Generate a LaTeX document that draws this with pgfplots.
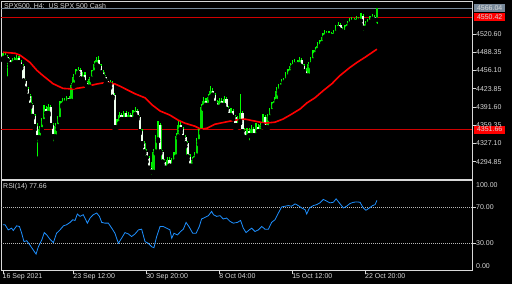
\documentclass[border=0pt]{standalone}
\usepackage{pgfplots}
\pgfplotsset{compat=1.18}
\usepackage{pgfplotstable}
\usepackage{fontspec}
\setmainfont{Liberation Sans}
\definecolor{fg}{HTML}{D8D8D8}
\definecolor{bullc}{HTML}{00E000}
\definecolor{wickc}{HTML}{00FF00}
\definecolor{bearc}{HTML}{EEFFEE}
\definecolor{mared}{HTML}{FF0000}
\definecolor{lvred}{HTML}{D00000}
\definecolor{askg}{HTML}{778899}
\definecolor{rsib}{HTML}{1E90FF}
\definecolor{lvl}{HTML}{B8B8B8}

\pgfplotstableread{
i o h l c
0 4477.6 4486.5 4474.0 4483.0
1 4483.0 4486.5 4475.8 4479.4
2 4479.4 4483.0 4441.7 4474.0
3 4474.0 4477.6 4461.5 4466.8
4 4466.8 4477.6 4463.2 4474.0
5 4474.0 4479.4 4466.8 4470.4
6 4470.4 4483.0 4466.8 4477.6
7 4477.6 4481.2 4465.0 4470.4
8 4470.4 4474.0 4459.7 4463.2
9 4463.2 4466.8 4434.6 4438.2
10 4438.2 4441.7 4418.5 4423.8
11 4423.8 4427.4 4405.9 4411.3
12 4411.3 4414.9 4391.6 4395.2
13 4395.2 4398.7 4371.9 4375.5
14 4375.5 4379.0 4352.2 4357.5
15 4357.5 4362.9 4300.2 4337.8
16 4337.8 4357.5 4330.7 4352.2
17 4352.2 4371.9 4348.6 4366.5
18 4366.5 4395.2 4362.9 4388.0
19 4388.0 4393.4 4375.5 4380.8
20 4380.8 4397.0 4377.2 4391.6
21 4391.6 4395.2 4355.7 4359.3
22 4359.3 4362.9 4327.1 4339.6
23 4339.6 4362.9 4334.2 4357.5
24 4357.5 4375.5 4352.2 4370.1
25 4370.1 4402.3 4366.5 4395.2
26 4395.2 4407.7 4391.6 4402.3
27 4402.3 4407.7 4393.4 4398.7
28 4398.7 4411.3 4395.2 4407.7
29 4407.7 4411.3 4397.0 4402.3
30 4402.3 4434.6 4398.7 4431.0
31 4431.0 4450.7 4427.4 4445.3
32 4445.3 4457.9 4441.7 4452.5
33 4452.5 4461.5 4448.9 4456.1
34 4456.1 4459.7 4438.2 4441.7
35 4441.7 4452.5 4438.2 4448.9
36 4448.9 4452.5 4431.0 4434.6
37 4434.6 4438.2 4423.8 4427.4
38 4427.4 4445.3 4423.8 4441.7
39 4441.7 4456.1 4438.2 4452.5
40 4452.5 4472.2 4448.9 4466.8
41 4466.8 4479.4 4463.2 4474.0
42 4474.0 4481.2 4459.7 4463.2
43 4463.2 4466.8 4448.9 4452.5
44 4452.5 4456.1 4441.7 4445.3
45 4445.3 4448.9 4432.8 4438.2
46 4438.2 4441.7 4427.4 4431.0
47 4431.0 4440.0 4425.6 4434.6
48 4434.6 4438.2 4405.9 4409.5
49 4413.1 4416.7 4352.2 4355.7
50 4355.7 4370.1 4348.6 4362.9
51 4362.9 4382.6 4359.3 4377.2
52 4377.2 4380.8 4366.5 4370.1
53 4370.1 4384.4 4366.5 4380.8
54 4380.8 4384.4 4364.7 4370.1
55 4370.1 4382.6 4366.5 4377.2
56 4377.2 4380.8 4364.7 4370.1
57 4370.1 4386.2 4366.5 4379.0
58 4379.0 4391.6 4373.7 4384.4
59 4384.4 4388.0 4370.1 4373.7
60 4373.7 4377.2 4345.0 4348.6
61 4348.6 4352.2 4321.7 4327.1
62 4327.1 4330.7 4309.2 4312.7
63 4312.7 4318.1 4294.8 4302.0
64 4302.0 4305.6 4276.9 4284.1
65 4284.1 4294.8 4268.0 4276.9
66 4276.9 4318.1 4273.3 4312.7
67 4312.7 4341.4 4309.2 4334.2
68 4334.2 4366.5 4330.7 4357.5
69 4359.3 4362.9 4309.2 4312.7
70 4312.7 4316.3 4289.5 4294.8
71 4294.8 4300.2 4278.7 4284.1
72 4284.1 4303.8 4280.5 4298.4
73 4298.4 4303.8 4282.3 4287.7
74 4287.7 4302.0 4284.1 4294.8
75 4294.8 4312.7 4291.2 4303.8
76 4303.8 4345.0 4298.4 4339.6
77 4339.6 4366.5 4336.0 4359.3
78 4359.3 4366.5 4346.8 4352.2
79 4352.2 4355.7 4334.2 4337.8
80 4337.8 4341.4 4321.7 4327.1
81 4327.1 4330.7 4298.4 4303.8
82 4303.8 4309.2 4282.3 4287.7
83 4287.7 4303.8 4284.1 4298.4
84 4298.4 4312.7 4294.8 4305.6
85 4305.6 4336.0 4302.0 4330.7
86 4330.7 4354.0 4325.3 4348.6
87 4348.6 4397.0 4345.0 4391.6
88 4391.6 4409.5 4388.0 4402.3
89 4402.3 4407.7 4389.8 4395.2
90 4395.2 4414.9 4391.6 4409.5
91 4409.5 4429.2 4405.9 4420.2
92 4420.2 4425.6 4409.5 4413.1
93 4413.1 4416.7 4395.2 4398.7
94 4398.7 4404.1 4386.2 4391.6
95 4391.6 4407.7 4388.0 4402.3
96 4402.3 4407.7 4391.6 4395.2
97 4395.2 4411.3 4391.6 4405.9
98 4405.9 4409.5 4384.4 4388.0
99 4388.0 4393.4 4373.7 4377.2
100 4377.2 4389.8 4371.9 4384.4
101 4384.4 4388.0 4370.1 4373.7
102 4373.7 4377.2 4352.2 4359.3
103 4359.3 4375.5 4355.7 4370.1
104 4366.5 4414.9 4362.9 4380.8
105 4380.8 4384.4 4343.2 4348.6
106 4348.6 4354.0 4330.7 4337.8
107 4337.8 4354.0 4334.2 4348.6
108 4348.6 4354.0 4328.9 4341.4
109 4341.4 4359.3 4337.8 4352.2
110 4352.2 4355.7 4336.0 4341.4
111 4341.4 4362.9 4337.8 4355.7
112 4355.7 4361.1 4343.2 4348.6
113 4348.6 4364.7 4345.0 4359.3
114 4359.3 4379.0 4355.7 4373.7
115 4373.7 4377.2 4350.4 4355.7
116 4355.7 4379.0 4352.2 4373.7
117 4373.7 4389.8 4370.1 4384.4
118 4384.4 4400.5 4380.8 4395.2
119 4395.2 4409.5 4391.6 4402.3
120 4402.3 4427.4 4398.7 4420.2
121 4420.2 4432.8 4414.9 4427.4
122 4427.4 4441.7 4423.8 4434.6
123 4434.6 4443.5 4429.2 4438.2
124 4438.2 4452.5 4434.6 4445.3
125 4445.3 4457.9 4441.7 4452.5
126 4452.5 4468.6 4448.9 4463.2
127 4463.2 4474.0 4459.7 4466.8
128 4466.8 4475.8 4461.5 4470.4
129 4470.4 4474.0 4463.2 4466.8
130 4466.8 4479.4 4463.2 4474.0
131 4474.0 4477.6 4459.7 4463.2
132 4463.2 4466.8 4448.9 4454.3
133 4454.3 4459.7 4441.7 4447.1
134 4447.1 4470.4 4443.5 4466.8
135 4466.8 4479.4 4463.2 4474.0
136 4474.0 4491.9 4470.4 4484.8
137 4484.8 4497.3 4481.2 4491.9
138 4491.9 4506.3 4488.3 4499.1
139 4499.1 4509.8 4495.5 4504.5
140 4504.5 4522.4 4500.9 4515.2
141 4515.2 4527.8 4511.6 4522.4
142 4522.4 4526.0 4513.4 4518.8
143 4518.8 4526.0 4515.2 4520.6
144 4520.6 4524.2 4513.4 4517.0
145 4517.0 4527.8 4513.4 4522.4
146 4522.4 4536.7 4518.8 4531.3
147 4531.3 4542.1 4527.8 4536.7
148 4536.7 4540.3 4524.2 4527.8
149 4527.8 4533.1 4520.6 4524.2
150 4524.2 4536.7 4520.6 4531.3
151 4531.3 4543.9 4527.8 4538.5
152 4538.5 4549.3 4534.9 4542.1
153 4542.1 4551.0 4538.5 4545.7
154 4545.7 4549.3 4536.7 4542.1
155 4542.1 4552.8 4538.5 4547.5
156 4547.5 4551.0 4538.5 4543.9
157 4543.9 4558.2 4536.7 4552.8
158 4552.8 4556.4 4522.4 4531.3
159 4531.3 4543.9 4527.8 4538.5
160 4538.5 4547.5 4534.9 4542.1
161 4542.1 4552.8 4538.5 4547.5
162 4547.5 4556.4 4542.1 4551.0
163 4551.0 4554.6 4538.5 4545.7
164 4545.7 4567.2 4534.9 4566.04
}\candles

\begin{document}
\begin{tikzpicture}
\fill[black] (0pt,0pt) rectangle (512pt,284pt);
\begin{axis}[at={(1pt,105pt)}, anchor=south west, scale only axis,
  width=471pt, height=178pt,
  xmin=-0.877, xmax=205.7, ymin=4264.2, ymax=4578.9,
  clip=false,
  axis line style={draw=fg, line width=0.8pt},
  xtick=\empty,
  ytick={4294.85,4327.10,4359.35,4391.60,4423.85,4456.10,4488.35,4520.60},
  yticklabels={4294.85,4327.10,4359.35,4391.60,4423.85,4456.10,4488.35,4520.60},
  ytick pos=right, yticklabel pos=right,
  tick align=outside, major tick length=3.5pt,
  tick style={draw=fg, line width=0.6pt},
  yticklabel style={font=\fontsize{7}{8}\selectfont, text=fg, anchor=west, inner sep=0pt, xshift=0.5pt},
]
% levels
\addplot[askg, line width=0.8pt] coordinates {(-0.877,4566.04) (205.7,4566.04)};
\addplot[lvred, line width=0.8pt] coordinates {(-0.877,4550.42) (205.7,4550.42)};
\addplot[lvred, line width=0.8pt] coordinates {(-0.877,4351.66) (205.7,4351.66)};
% wicks
\addplot[only marks, mark=none,
  error bars/.cd, y dir=plus, y explicit, error mark=none,
  error bar style={draw=wickc, line width=1.2pt}]
  table[x=i, y=l, y error expr={\thisrow{h}-\thisrow{l}}] {\candles};
% all bodies (green)
\addplot[only marks, mark=none,
  error bars/.cd, y dir=plus, y explicit, error mark=none,
  error bar style={draw=bullc, line width=2.4pt}]
  table[x=i, y expr={min(\thisrow{o},\thisrow{c})}, y error expr={abs(\thisrow{c}-\thisrow{o})}] {\candles};
% bear bodies (white)
\addplot[only marks, mark=none,
  error bars/.cd, y dir=plus, y explicit, error mark=none,
  error bar style={draw=bearc, line width=2.2pt}]
  table[x=i, y expr={\thisrow{c}<\thisrow{o} ? \thisrow{c} : nan}, y error expr={\thisrow{o}-\thisrow{c}}] {\candles};
% moving average
\addplot[mared, line width=1.6pt] coordinates {
(0,4488.3) (5.3,4486.5) (7.5,4483.0) (11.8,4470.4) (14.9,4456.1) (17.5,4447.1) (21.9,4432.8) (26.3,4424.4) (30.7,4423.3) (35.1,4426.2) (41.2,4432.2) (45.6,4435.1) (49.1,4432.2) (51.3,4428.3) (53.5,4423.8) (57.9,4414.9) (62.3,4407.7) (65.4,4395.2) (68.9,4384.4) (73.2,4377.2) (76.8,4368.3) (79.8,4362.9) (84.2,4357.5) (86.8,4352.2) (89.5,4354.0) (93.0,4361.1) (97.4,4364.7) (101.8,4368.3) (106.1,4370.1) (110.5,4366.5) (114.9,4362.9) (119.3,4364.7) (122.8,4370.1) (125.9,4377.2) (130.3,4388.0) (133.3,4398.7) (136.8,4407.7) (140.4,4420.2) (144.3,4432.8) (147.8,4447.1) (152.2,4461.5) (155.3,4470.4) (158.8,4479.4) (164,4493.7)};
% price boxes
\node[fill=askg, text=fg, anchor=west, inner sep=0pt, minimum width=31pt, minimum height=8pt, font=\fontsize{7}{8}\selectfont, xshift=2pt] at (axis cs:205.7,4566.04) {4566.04};
\node[fill=mared, text=fg, anchor=west, inner sep=0pt, minimum width=31pt, minimum height=8pt, font=\fontsize{7}{8}\selectfont, xshift=2pt] at (axis cs:205.7,4550.42) {4550.42};
\node[fill=mared, text=fg, anchor=west, inner sep=0pt, minimum width=31pt, minimum height=8pt, font=\fontsize{7}{8}\selectfont, xshift=2pt] at (axis cs:205.7,4351.66) {4351.66};
\node[anchor=north west, inner sep=0pt, text=fg, font=\fontsize{7}{8}\selectfont, xshift=3pt, yshift=-2.3pt] at (rel axis cs:0,1) {SPX500, H4:~~US SPX 500 Cash};
\end{axis}

\begin{axis}[at={(1pt,13.7pt)}, anchor=south west, scale only axis,
  width=471pt, height=90pt,
  xmin=-0.877, xmax=205.7, ymin=0, ymax=100,
  clip=false,
  axis line style={draw=fg, line width=0.8pt},
  xtick={0,31,63,95,127,159},
  xticklabels={16 Sep 2021,23 Sep 12:00,30 Sep 20:00,8 Oct 04:00,15 Oct 12:00,22 Oct 20:00},
  xtick pos=lower,
  ytick={30,70}, yticklabels={30.00,70.00},
  ytick pos=right, yticklabel pos=right,
  tick align=outside, major tick length=3.5pt,
  tick style={draw=fg, line width=0.6pt},
  yticklabel style={font=\fontsize{7}{8}\selectfont, text=fg, anchor=west, inner sep=0pt, xshift=0.5pt},
  xticklabel style={font=\fontsize{7}{8}\selectfont, text=fg, anchor=north west, inner sep=0pt, xshift=-0.5pt},
]
\addplot[lvl, line width=0.6pt, dash pattern=on 1pt off 1pt] coordinates {(-0.877,70) (205.7,70)};
\addplot[lvl, line width=0.6pt, dash pattern=on 1pt off 1pt] coordinates {(-0.877,30) (205.7,30)};
\addplot[rsib, line width=0.8pt] coordinates {
(0,50.6) (0.9,50.6) (2.3,44.9) (3.8,46.8) (4.5,44.2) (6.0,49.4) (7.2,48.7) (8.2,41.2) (9.2,31.8) (10.4,32.9) (11.8,28.1) (13.3,22.5) (14.5,18.0) (15.5,26.2) (17.0,33.7) (18.1,41.9) (19.2,39.3) (20.6,34.5) (22.1,30.7) (23.5,41.2) (25.0,44.9) (26.5,49.4) (27.9,50.6) (29.4,53.2) (30.6,56.2) (31.6,55.4) (32.6,62.5) (33.8,59.9) (35.2,61.8) (37.0,52.4) (38.2,58.1) (39.6,61.8) (41.1,63.7) (42.3,59.9) (43.3,53.2) (44.7,52.4) (46.2,52.4) (47.7,46.8) (49.1,41.2) (50.6,30.0) (52.0,35.6) (53.5,41.9) (55.0,40.4) (56.4,37.5) (57.9,40.4) (59.4,44.9) (60.8,45.7) (62.3,31.8) (63.7,30.0) (65.2,26.2) (66.2,25.1) (67.4,37.5) (68.9,48.7) (70.3,48.7) (71.8,46.8) (73.2,44.9) (74.0,35.6) (75.0,41.2) (76.5,39.3) (77.9,43.1) (79.1,45.7) (80.3,53.2) (81.7,48.0) (83.2,41.2) (84.7,41.2) (86.1,48.7) (87.1,57.0) (88.6,58.8) (90.1,60.7) (91.5,65.5) (92.3,61.8) (93.7,59.9) (95.2,60.7) (96.6,57.0) (98.1,58.1) (99.6,54.3) (101.0,52.4) (102.8,53.2) (104.2,55.4) (105.4,46.8) (106.6,41.9) (108.0,44.9) (109.1,46.8) (110.5,43.1) (112.0,44.9) (113.5,48.7) (114.9,45.7) (116.4,45.7) (117.8,53.2) (119.3,56.2) (120.8,63.7) (122.2,70.4) (123.7,71.2) (125.1,71.9) (126.6,71.2) (128.1,73.8) (129.5,71.9) (131.0,69.3) (132.5,67.4) (133.2,62.5) (134.4,69.3) (136.1,71.9) (137.6,73.0) (139.0,74.9) (140.5,78.7) (142.0,76.8) (143.4,74.9) (144.9,75.6) (146.1,79.4) (147.5,74.9) (149.3,69.3) (150.7,71.2) (152.2,74.2) (153.7,75.6) (155.1,76.0) (156.6,75.6) (158.0,69.3) (159.2,66.7) (160.7,69.3) (162.1,71.9) (163.2,73.0) (164,77.66)};
\node[anchor=north west, inner sep=0pt, text=fg, font=\fontsize{7}{8}\selectfont, xshift=2pt, yshift=-2.7pt] at (rel axis cs:0,1) {RSI(14) 77.66};
\node[anchor=north west, inner sep=0pt, text=fg, font=\fontsize{7}{8}\selectfont, xshift=4pt, yshift=-2.2pt] at (rel axis cs:1,1) {100.00};
\node[anchor=south west, inner sep=0pt, text=fg, font=\fontsize{7}{8}\selectfont, xshift=4pt, yshift=1.8pt] at (rel axis cs:1,0) {0.00};
\end{axis}
\pgfresetboundingbox
\useasboundingbox (0pt,0pt) rectangle (512pt,284pt);
\end{tikzpicture}
\end{document}
